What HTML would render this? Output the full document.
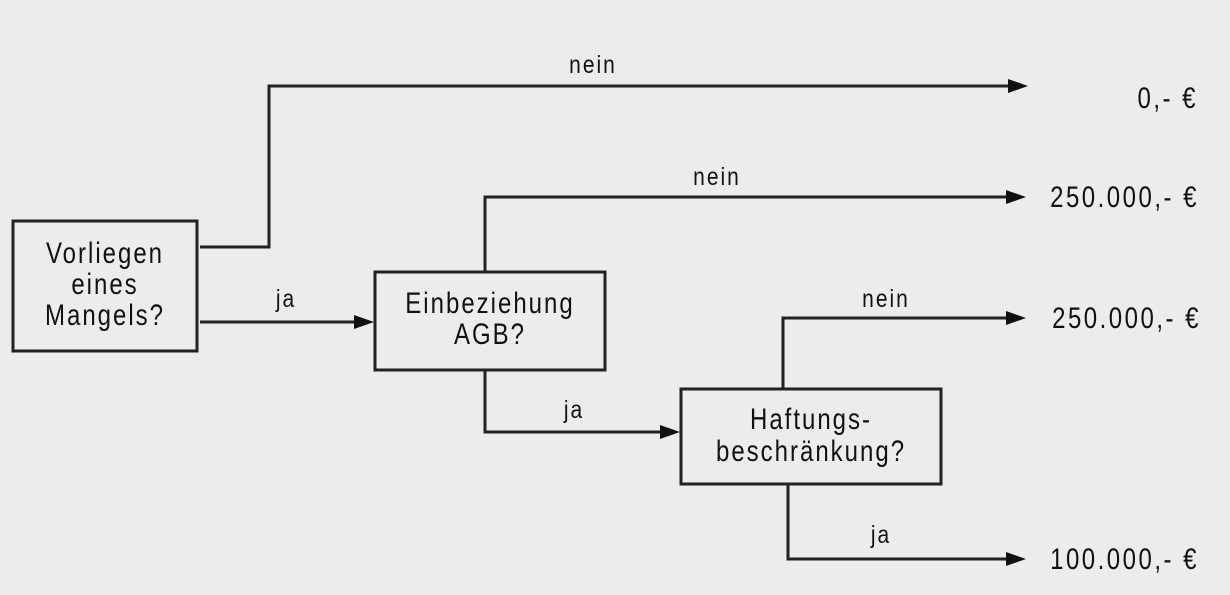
<!DOCTYPE html>
<html><head><style>
body{margin:0;background:#ececec;}
svg{display:block;font-family:"Liberation Sans",sans-serif;}
</style></head><body>
<svg width="1230" height="595" viewBox="0 0 1230 595">
<rect width="1230" height="595" fill="#ececec"/>
<g stroke="#222" stroke-width="3" fill="none">
<rect x="13" y="221" width="184" height="130" fill="#ececec"/>
<rect x="375" y="272" width="230" height="98" fill="#ececec"/>
<rect x="681" y="389" width="260" height="95" fill="#ececec"/>
<polyline points="200,247 269,247 269,86 1010,86"/>
<line x1="200" y1="322" x2="356" y2="322"/>
<polyline points="485,272 485,197 1008,197"/>
<polyline points="485,370 485,432 662,432"/>
<polyline points="783,389 783,318 1008,318"/>
<polyline points="788,484 788,559 1008,559"/>
</g>
<g fill="#111">
<path d="M1008,79 L1028,86 L1008,93Z"/>
<path d="M354,315 L374,322 L354,329Z"/>
<path d="M1006,190 L1026,197 L1006,204Z"/>
<path d="M660,425 L680,432 L660,439Z"/>
<path d="M1006,311 L1026,318 L1006,325Z"/>
<path d="M1006,552 L1026,559 L1006,566Z"/>
</g>
<g font-size="24" fill="#111" text-anchor="middle" letter-spacing="2">
<text transform="translate(105,263) scale(1,1.25)">Vorliegen</text>
<text transform="translate(105,294) scale(1,1.25)">eines</text>
<text transform="translate(105,325) scale(1,1.25)">Mangels?</text>
<text transform="translate(490,313) scale(1,1.25)">Einbeziehung</text>
<text transform="translate(490,344) scale(1,1.25)">AGB?</text>
<text transform="translate(811,429) scale(1,1.25)">Haftungs-</text>
<text transform="translate(811,461) scale(1,1.25)">beschränkung?</text>
</g>
<g font-size="21" fill="#111" text-anchor="middle" letter-spacing="2">
<text transform="translate(593,73) scale(1,1.2)">nein</text>
<text transform="translate(717,185) scale(1,1.2)">nein</text>
<text transform="translate(886,307) scale(1,1.2)">nein</text>
<text transform="translate(286,307) scale(1,1.2)">ja</text>
<text transform="translate(574,418) scale(1,1.2)">ja</text>
<text transform="translate(881,543) scale(1,1.2)">ja</text>
</g>
<g font-size="24" fill="#111" text-anchor="end" letter-spacing="2.5">
<text transform="translate(1198,108) scale(1,1.25)">0,- €</text>
<text transform="translate(1199,207) scale(1,1.25)">250.000,- €</text>
<text transform="translate(1201,328) scale(1,1.25)">250.000,- €</text>
<text transform="translate(1199,569) scale(1,1.25)">100.000,- €</text>
</g>
</svg>
</body></html>
